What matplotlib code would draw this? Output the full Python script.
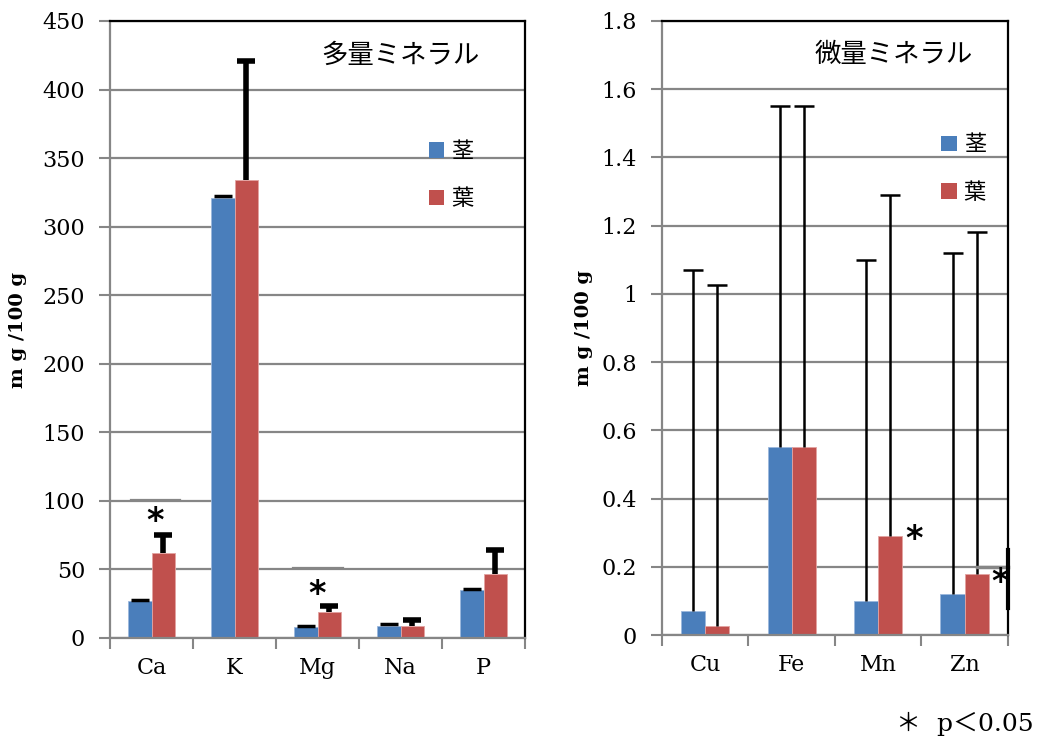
import matplotlib
matplotlib.use("Agg")
import matplotlib.pyplot as plt
from matplotlib.patches import Patch
import numpy as np

# Macro minerals (mg/100 g)
macro_names = ["Ca", "K", "Mg", "Na", "P"]
macro_stem = [27, 321, 8, 9, 35]
macro_stem_err = [1, 1, 1, 1, 1]
macro_leaf = [62, 334, 19, 9, 47]
macro_leaf_err = [13, 87, 4, 4, 17]

# Trace minerals (mg/100 g)
trace_names = ["Cu", "Fe", "Mn", "Zn"]
trace_stem = [0.07, 0.55, 0.10, 0.12]
trace_stem_err = [1.0, 1.0, 1.0, 1.0]
trace_leaf = [0.025, 0.55, 0.29, 0.18]
trace_leaf_err = [1.0, 1.0, 1.0, 1.0]

series_labels = ["茎", "葉"]
titles = ["多量ミネラル", "微量ミネラル"]
ylabel = "m g /100 g"
footnote = "＊  p＜0.05"

BLUE = "#4a7ebb"
RED = "#c0504d"
GRID = "#868686"
SERIF = ["DejaVu Serif", "Noto Sans CJK JP"]
JP = ["Noto Sans CJK JP", "DejaVu Sans"]

plt.rcParams["font.family"] = SERIF

fig = plt.figure(figsize=(10.48, 7.42), dpi=100)
ax1 = fig.add_axes([0.105, 0.1402, 0.396, 0.8315])
ax2 = fig.add_axes([0.6317, 0.1442, 0.330, 0.8275])

W = 0.28


def style_axes(ax, names, ymax, ystep, fmt):
    n = len(names)
    ax.set_xlim(-0.5, n - 0.5)
    ax.set_ylim(0, ymax)
    yt = np.arange(0, ymax + ystep / 2, ystep)
    ax.set_yticks(yt)
    ax.set_yticklabels([fmt(v) for v in yt], fontsize=16)
    ax.yaxis.grid(True, color=GRID, lw=1.6)
    ax.set_axisbelow(True)
    ax.set_xticks(np.arange(-0.5, n, 1.0))
    ax.set_xticklabels([])
    ax.set_xticks(np.arange(n), minor=True)
    ax.set_xticklabels(names, minor=True, fontsize=16)
    ax.tick_params(axis="x", which="minor", length=0, pad=14)
    ax.tick_params(axis="x", which="major", length=8, color=GRID, width=1.5)
    ax.tick_params(axis="y", length=8, color=GRID, width=1.5, pad=10)
    for s in ("left", "bottom"):
        ax.spines[s].set_color(GRID)
        ax.spines[s].set_linewidth(1.6)
    for s in ("top", "right"):
        ax.spines[s].set_color("black")
        ax.spines[s].set_linewidth(1.6)
    ax.set_ylabel(ylabel, fontsize=14, fontweight="bold", family="DejaVu Serif")


def upper_errors(ax, x, vals, errs, elw, capw, cap_lw):
    tops = np.asarray(vals) + np.asarray(errs)
    ax.vlines(x, vals, tops, color="black", lw=elw, zorder=3)
    ax.plot(x, tops, ls="none", marker="_", ms=capw, mew=cap_lw, color="black", zorder=3)


def draw_bars(ax, stem, stem_err, leaf, leaf_err, elw, capw, stem_cap_lw):
    x = np.arange(len(stem))
    ax.bar(x - W / 2, stem, W, color=BLUE, edgecolor="#9bb7dd", lw=0.6, zorder=2)
    ax.bar(x + W / 2, leaf, W, color=RED, edgecolor="#e3a3a1", lw=0.6, zorder=2)
    upper_errors(ax, x - W / 2, stem, stem_err, elw, capw, stem_cap_lw)
    upper_errors(ax, x + W / 2, leaf, leaf_err, elw, capw, elw)


def star(ax, x, y):
    ax.text(x, y, "*", ha="center", va="center", fontsize=24,
            fontweight="bold", family="DejaVu Sans")


# Left panel: macro minerals
draw_bars(ax1, macro_stem, macro_stem_err, macro_leaf, macro_leaf_err, 4, 13, 2.5)
style_axes(ax1, macro_names, 450, 50, lambda v: f"{v:.0f}")
ax1.yaxis.set_label_coords(-0.2, 0.5)
ax1.text(0.89, 0.945, titles[0], transform=ax1.transAxes, ha="right", va="center",
         fontsize=19, family=JP)
# significance markers
ax1.plot([-0.25, 0.34], [100.5, 100.5], color=GRID, lw=1.6, zorder=3)
star(ax1, 0.04, 85)
ax1.plot([1.71, 2.31], [51, 51], color=GRID, lw=1.6, zorder=3)
star(ax1, 2.0, 32)

# Right panel: trace minerals
draw_bars(ax2, trace_stem, trace_stem_err, trace_leaf, trace_leaf_err, 1.8, 14, 1.8)
style_axes(ax2, trace_names, 1.8, 0.2, lambda v: f"{v:g}")
ax2.yaxis.set_label_coords(-0.2, 0.5)
ax2.text(0.9, 0.945, titles[1], transform=ax2.transAxes, ha="right", va="center",
         fontsize=19, family=JP)
star(ax2, 2.41, 0.28)
ax2.plot([3.14, 3.5], [0.2, 0.2], color=GRID, lw=2.5, zorder=3, clip_on=False)
ax2.plot([3.5, 3.5], [0.08, 0.25], color="black", lw=3, zorder=3, clip_on=False)
star(ax2, 3.41, 0.155)

handles = [Patch(facecolor=BLUE), Patch(facecolor=RED)]
for ax, anchor in ((ax1, (0.72, 0.84)), (ax2, (0.75, 0.85))):
    ax.legend(handles, series_labels, loc="upper left", bbox_to_anchor=anchor,
              frameon=False, handlelength=0.7, handleheight=0.7, handletextpad=0.3,
              labelspacing=1.1, prop={"family": JP, "size": 16})

fig.text(0.855, 0.024, footnote, fontsize=18, ha="left", va="center")

fig.savefig("out.png", dpi=100)
